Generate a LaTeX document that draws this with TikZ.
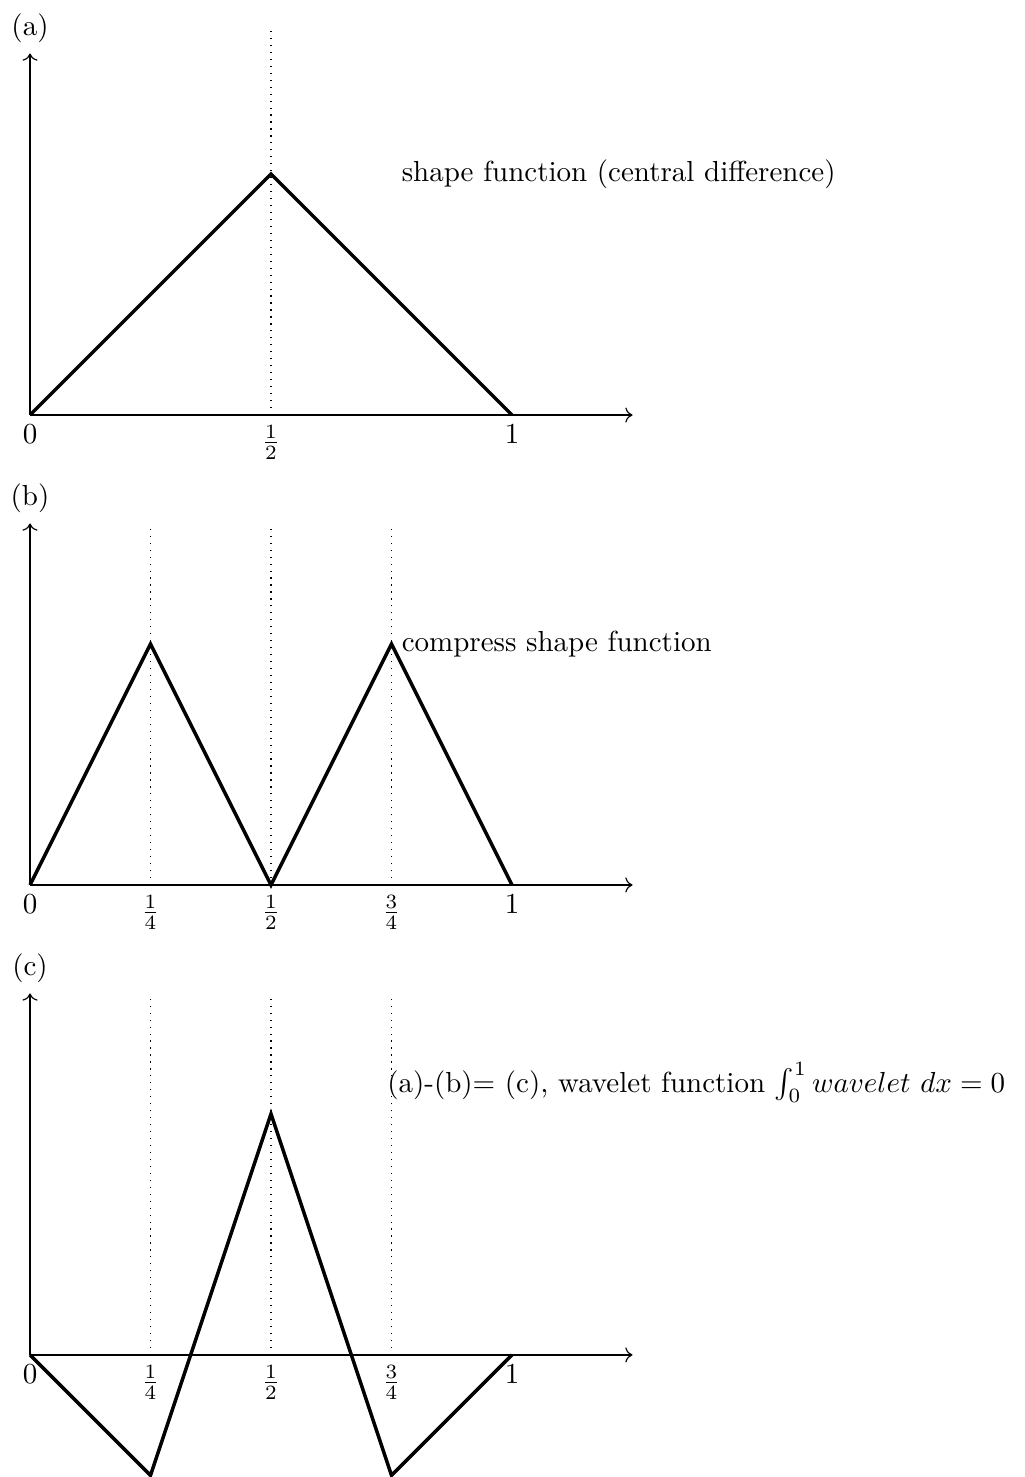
\documentclass[tikz,border=0pt]{standalone}
\usepackage{amsmath}
\usepackage{tikz}
\usetikzlibrary{arrows.meta,positioning}

\begin{document}
\begin{tikzpicture}[
  x=1.46cm, y=1.46cm,
  axis/.style={->},
  guide/.style={dotted},
  curve/.style={very thick},
  tick/.style={below},
  note/.style={right}
]
\useasboundingbox (-0.249,3.444) rectangle (8.249,-8.813);
% (a)
\begin{scope}
\coordinate (oa) at (0,0);
\draw[axis] (oa) -- (5,0);
\draw[axis] (oa) -- (0,3) node[above] (ta) {(a)};
\draw[guide] (2,0) -- (2,3.2);
\draw[curve] (oa) -- (2,2) coordinate (pa) -- (4,0);
\node[tick] (a0) at (0,0) {$0$};
\node[tick] (a1) at (2,0) {$\frac{1}{2}$};
\node[tick] (a2) at (4,0) {$1$};
\node[note] (na) at (3,2) {shape function (central difference)};
\end{scope}
% (b)
\begin{scope}[yshift=-3.9*1.46cm]
\coordinate (ob) at (0,0);
\draw[axis] (ob) -- (5,0);
\draw[axis] (ob) -- (0,3) node[above] (tb) {(b)};
\foreach \x in {1,2,3}
  \draw[guide] (\x,0) -- (\x,3);
\draw[curve] (ob) -- (1,2) -- (2,0) -- (3,2) coordinate (pb) -- (4,0);
\node[tick] (b0) at (0,0) {$0$};
\node[tick] (b1) at (1,0) {$\frac{1}{4}$};
\node[tick] (b2) at (2,0) {$\frac{1}{2}$};
\node[tick] (b3) at (3,0) {$\frac{3}{4}$};
\node[tick] (b4) at (4,0) {$1$};
\node[note] (nb) at (3,2) {compress shape function};
\end{scope}
% (c)
\begin{scope}[yshift=-7.8*1.46cm]
\coordinate (oc) at (0,0);
\draw[axis] (oc) -- (5,0);
\draw[axis] (oc) -- (0,3) node[above] (tc) {(c)};
\foreach \x in {1,2,3}
  \draw[guide] (\x,0) -- (\x,3);
\draw[curve] (oc) -- (1,-1) -- (2,2) coordinate (pc) -- (3,-1) -- (4,0);
\node[tick] (c0) at (0,0) {$0$};
\node[tick] (c1) at (1,0) {$\frac{1}{4}$};
\node[tick] (c2) at (2,0) {$\frac{1}{2}$};
\node[tick] (c3) at (3,0) {$\frac{3}{4}$};
\node[tick] (c4) at (4,0) {$1$};
\node[note] (nc) at (2.88,2.26) {(a)-(b)= (c), wavelet function $\int_0^1 wavelet\ dx = 0$};
\end{scope}
\end{tikzpicture}
\end{document}
